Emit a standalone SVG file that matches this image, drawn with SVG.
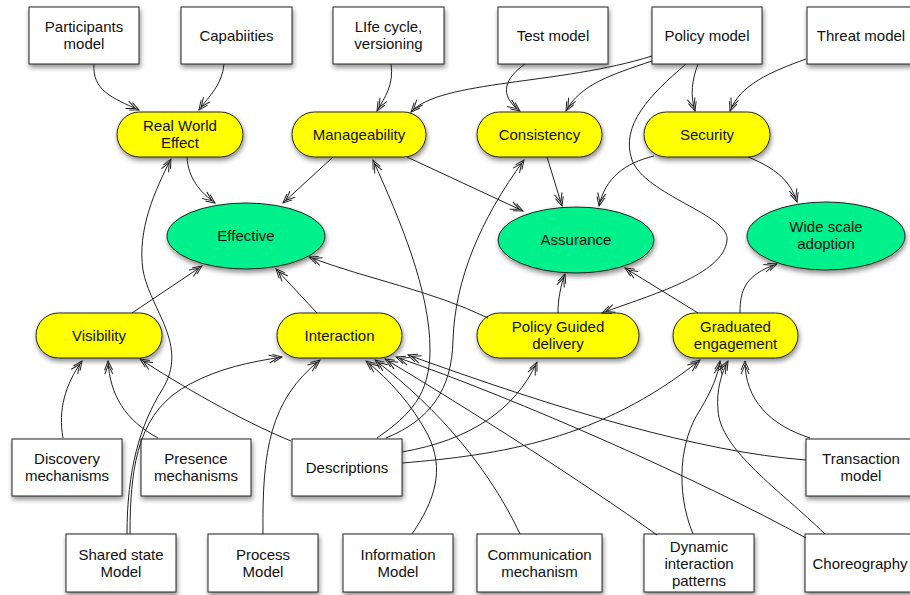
<svg xmlns="http://www.w3.org/2000/svg" width="910" height="595" viewBox="0 0 910 595">
  <style>
    .box { fill: #ffffff; stroke: #222; stroke-width: 1; filter: url(#shadow); }
    .pill { fill: #ffff00; stroke: #222; stroke-width: 1; filter: url(#shadow); }
    .goal { fill: #00f08c; stroke: #222; stroke-width: 1; filter: url(#shadow); }
    text { font-family: "Liberation Sans", Arial, sans-serif; font-size: 15px; fill: #111; text-anchor: middle; }
    .edge { fill: none; stroke: #222; stroke-width: 1; marker-end: url(#dbl); }
  </style>
  <defs>
    <filter id="shadow" x="-20%" y="-20%" width="140%" height="160%">
      <feDropShadow dx="1" dy="3" stdDeviation="2.5" flood-color="#000" flood-opacity="0.45"/>
    </filter>
    <marker id="dbl" viewBox="-15 -6 17 12" refX="0" refY="0" markerWidth="17" markerHeight="12" orient="auto" markerUnits="userSpaceOnUse">
      <path d="M-9,-4 L0,0 L-9,4 M-13,-4 L-4,0 L-13,4" fill="none" stroke="#222" stroke-width="1"/>
    </marker>
  </defs>

  <!-- top row: input models -->
  <g id="participants-model"><rect class="box" x="29" y="7" width="110" height="57"/><text x="84" y="32">Participants<tspan x="84" dy="17">model</tspan></text></g>
  <g id="capabilities"><rect class="box" x="181" y="7" width="111" height="57"/><text x="236.5" y="41">Capabiities</text></g>
  <g id="life-cycle"><rect class="box" x="333" y="7" width="111" height="57"/><text x="388.5" y="32">LIfe cycle,<tspan x="388.5" dy="17">versioning</tspan></text></g>
  <g id="test-model"><rect class="box" x="498" y="7" width="110" height="57"/><text x="553" y="41">Test model</text></g>
  <g id="policy-model"><rect class="box" x="652" y="7" width="110" height="57"/><text x="707" y="41">Policy model</text></g>
  <g id="threat-model"><rect class="box" x="807" y="7" width="110" height="57"/><text x="861" y="41">Threat model</text></g>

  <!-- qualities -->
  <g id="real-world-effect"><rect class="pill" x="117" y="112" width="126" height="45" rx="22.5"/><text x="180" y="131">Real World<tspan x="180" dy="17">Effect</tspan></text></g>
  <g id="manageability"><rect class="pill" x="292" y="112" width="134" height="45" rx="22.5"/><text x="359" y="140">Manageability</text></g>
  <g id="consistency"><rect class="pill" x="477" y="112" width="125" height="45" rx="22.5"/><text x="539.5" y="140">Consistency</text></g>
  <g id="security"><rect class="pill" x="644" y="112" width="126" height="45" rx="22.5"/><text x="707" y="140">Security</text></g>

  <!-- goals -->
  <g id="effective"><ellipse class="goal" cx="246" cy="236" rx="79" ry="33"/><text x="246" y="241">Effective</text></g>
  <g id="assurance"><ellipse class="goal" cx="576" cy="240" rx="78" ry="33"/><text x="576" y="245">Assurance</text></g>
  <g id="wide-scale-adoption"><ellipse class="goal" cx="826" cy="236" rx="79" ry="34"/><text x="826" y="232">Wide scale<tspan x="826" dy="17">adoption</tspan></text></g>

  <g id="visibility"><rect class="pill" x="36" y="313" width="126" height="45" rx="22.5"/><text x="99" y="341">Visibility</text></g>
  <g id="interaction"><rect class="pill" x="277" y="313" width="125" height="45" rx="22.5"/><text x="339.5" y="341">Interaction</text></g>
  <g id="policy-guided-delivery"><rect class="pill" x="477" y="313" width="162" height="45" rx="22.5"/><text x="558" y="332">Policy Guided<tspan x="558" dy="17">delivery</tspan></text></g>
  <g id="graduated-engagement"><rect class="pill" x="673" y="313" width="125" height="45" rx="22.5"/><text x="735.5" y="332">Graduated<tspan x="735.5" dy="17">engagement</tspan></text></g>

  <!-- lower rows: mechanisms and models -->
  <g id="discovery-mechanisms"><rect class="box" x="12" y="439" width="110" height="57"/><text x="67" y="464">Discovery<tspan x="67" dy="17">mechanisms</tspan></text></g>
  <g id="presence-mechanisms"><rect class="box" x="141" y="439" width="110" height="57"/><text x="196" y="464">Presence<tspan x="196" dy="17">mechanisms</tspan></text></g>
  <g id="descriptions"><rect class="box" x="292" y="439" width="110" height="57"/><text x="347" y="473">Descriptions</text></g>
  <g id="transaction-model"><rect class="box" x="806" y="439" width="110" height="57"/><text x="861" y="464">Transaction<tspan x="861" dy="17">model</tspan></text></g>

  <g id="shared-state-model"><rect class="box" x="66" y="534" width="110" height="58"/><text x="121" y="560">Shared state<tspan x="121" dy="17">Model</tspan></text></g>
  <g id="process-model"><rect class="box" x="208" y="534" width="110" height="58"/><text x="263" y="560">Process<tspan x="263" dy="17">Model</tspan></text></g>
  <g id="information-model"><rect class="box" x="343" y="534" width="110" height="58"/><text x="398" y="560">Information<tspan x="398" dy="17">Model</tspan></text></g>
  <g id="communication-mechanism"><rect class="box" x="477" y="534" width="125" height="58"/><text x="539.5" y="560">Communication<tspan x="539.5" dy="17">mechanism</tspan></text></g>
  <g id="dynamic-interaction-patterns"><rect class="box" x="644" y="534" width="110" height="58"/><text x="699" y="552">Dynamic<tspan x="699" dy="17">interaction</tspan><tspan x="699" dy="17">patterns</tspan></text></g>
  <g id="choreography"><rect class="box" x="805" y="534" width="110" height="58"/><text x="860" y="569">Choreography</text></g>

  <!-- connectors -->
  <g id="connectors">
    <path class="edge" d="M94,64 C92,90 112,98 139,110"/>
    <path class="edge" d="M224,64 C222,85 210,95 199,110"/>
    <path class="edge" d="M391,64 C394,85 385,97 377,111"/>
    <path class="edge" d="M652,56 C560,85 440,80 411,112"/>
    <path class="edge" d="M652,61 C610,75 580,85 566,111"/>
    <path class="edge" d="M525,64 C505,78 498,95 520,111"/>
    <path class="edge" d="M698,64 C692,80 690,95 695,111"/>
    <path class="edge" d="M806,59 C770,72 740,85 730,111"/>
    <path class="edge" d="M686,64 C650,95 620,125 632,160 C645,195 730,215 727,240 C724,275 650,295 602,313"/>

    <path class="edge" d="M187,157 C188,178 200,192 215,203"/>
    <path class="edge" d="M333,157 L283,203"/>
    <path class="edge" d="M407,157 L523,211"/>
    <path class="edge" d="M547,157 L562,206"/>
    <path class="edge" d="M654,156 C625,163 605,178 599,206"/>
    <path class="edge" d="M748,157 C775,168 790,180 797,202"/>

    <path class="edge" d="M132,313 L202,266"/>
    <path class="edge" d="M317,313 L276,269"/>
    <path class="edge" d="M488,318 C430,290 370,280 309,257"/>
    <path class="edge" d="M558,313 C558,298 561,285 565,274"/>
    <path class="edge" d="M698,313 L625,268"/>
    <path class="edge" d="M740,313 C740,290 745,275 777,264"/>

    <path class="edge" d="M127,534 C127,470 140,425 162,390 C190,345 150,310 143,270 C137,230 155,190 171,159"/>
    <path class="edge" d="M130,534 C130,460 140,410 190,384 C220,368 250,362 282,357"/>
    <path class="edge" d="M63,438 C58,410 65,385 82,361"/>
    <path class="edge" d="M158,438 C125,420 110,395 108,361"/>
    <path class="edge" d="M291,441 C240,420 180,385 140,359"/>
    <path class="edge" d="M263,534 C262,450 270,400 320,360"/>

    <path class="edge" d="M377,438 C410,415 430,395 430,350 C430,290 400,220 373,160"/>
    <path class="edge" d="M386,438 C430,420 452,390 453,340 C455,280 480,220 524,160"/>
    <path class="edge" d="M402,452 C470,440 515,410 537,362"/>
    <path class="edge" d="M402,463 C500,455 600,440 700,360"/>

    <path class="edge" d="M412,534 C435,500 445,470 428,435 C412,405 390,380 366,361"/>
    <path class="edge" d="M520,534 C490,470 440,410 375,360"/>
    <path class="edge" d="M657,535 C580,480 470,410 385,359"/>
    <path class="edge" d="M806,538 C700,480 520,400 396,357"/>
    <path class="edge" d="M806,460 C700,452 560,410 408,355"/>

    <path class="edge" d="M693,534 C675,490 680,440 700,410 C712,390 718,375 720,361"/>
    <path class="edge" d="M825,534 C780,490 720,450 718,410 C716,390 722,372 728,361"/>
    <path class="edge" d="M810,438 C770,425 745,400 745,361"/>
  </g>
</svg>
